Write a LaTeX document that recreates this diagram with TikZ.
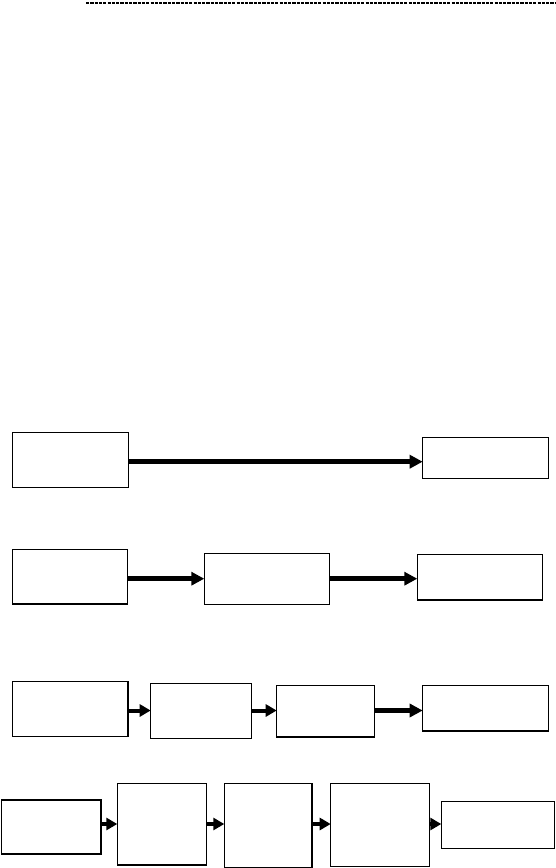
\documentclass[tikz,border=0pt]{standalone}
\usetikzlibrary{arrows.meta}
\begin{document}
\begin{tikzpicture}[x=1pt,y=-1pt,
  box/.style={draw=black,line width=1.3pt,fill=white,rectangle,inner sep=0pt,outer sep=0pt,anchor=north west},
  arrbig/.style={line width=4.5pt,-{Triangle[length=13pt,width=13pt]}},
  arrsmall/.style={line width=4pt,-{Triangle[length=11pt,width=12pt]}}]
\useasboundingbox (0,0) rectangle (555,868);
% top dashed rule
\draw[line width=1.1pt,dash pattern=on 3.2pt off 1.1pt] (86,3) -- (555,3);
% row 1
\node[box,minimum width=115.8pt,minimum height=55pt] (A) at (12.4,432.3) {};
\node[box,minimum width=125.6pt,minimum height=40.6pt] (B) at (422.7,437.7) {};
\draw[arrbig] (A.east |- 0,461.7) -- (B.west |- 0,461.7);
% row 2
\node[box,minimum width=115pt,minimum height=54.7pt] (C) at (12.3,549.3) {};
\node[box,minimum width=125.2pt,minimum height=50.6pt] (D) at (204.3,553.7) {};
\node[box,minimum width=125.4pt,minimum height=45.7pt] (E) at (417.3,554.3) {};
\draw[arrbig] (C.east |- 0,578.7) -- (D.west |- 0,578.7);
\draw[arrbig] (D.east |- 0,578.7) -- (E.west |- 0,578.7);
% row 3
\node[box,minimum width=115.7pt,minimum height=55pt] (F) at (12.3,681.7) {};
\node[box,minimum width=101.1pt,minimum height=55pt] (G) at (150.7,683.3) {};
\node[box,minimum width=97.8pt,minimum height=51.7pt] (H) at (276.7,685.3) {};
\node[box,minimum width=125.6pt,minimum height=45.3pt] (I) at (422.7,685.7) {};
\draw[arrsmall] (F.east |- 0,710.5) -- (G.west |- 0,710.5);
\draw[arrsmall] (G.east |- 0,710.5) -- (H.west |- 0,710.5);
\draw[arrbig] (H.east |- 0,710.5) -- (I.west |- 0,710.5);
% row 4
\node[box,minimum width=99.7pt,minimum height=54pt] (J) at (1.3,800) {};
\node[box,minimum width=89pt,minimum height=81.7pt] (K) at (117.3,783.3) {};
\node[box,minimum width=87.7pt,minimum height=84pt] (L) at (224.3,783.3) {};
\node[box,minimum width=98.6pt,minimum height=83.4pt] (M) at (330.7,783.3) {};
\node[box,minimum width=113pt,minimum height=46.6pt] (N) at (441.3,801.7) {};
\draw[arrsmall] (J.east |- 0,824) -- (K.west |- 0,824);
\draw[arrsmall] (K.east |- 0,824) -- (L.west |- 0,824);
\draw[arrsmall] (L.east |- 0,824) -- (M.west |- 0,824);
\draw[arrsmall] (M.east |- 0,824) -- (N.west |- 0,824);
\end{tikzpicture}
\end{document}
